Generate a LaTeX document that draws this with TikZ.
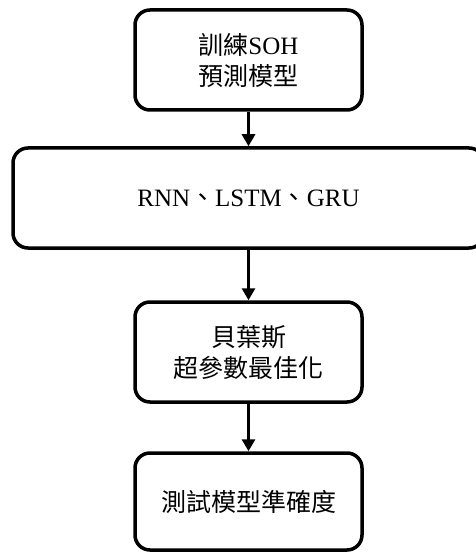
\documentclass[tikz,border=0pt]{standalone}
\usepackage{fontspec}
\setmainfont{Liberation Serif}
\newfontfamily\cjk{Noto Sans CJK TC}
\usetikzlibrary{arrows.meta}
\begin{document}
\begin{tikzpicture}[x=1pt,y=-1pt,
  box/.style={draw,line width=3.5pt,rounded corners=15pt,align=center,
    font=\fontsize{25}{31}\selectfont,inner sep=0pt},
  arr/.style={line width=3pt,-{Triangle[width=13pt,length=12pt]}}]
\useasboundingbox (0,0) rectangle (475,553);
\node[box,minimum width=227pt,minimum height=100pt] (b1) at (248.5,60) {{\cjk 訓練}SOH\\{\cjk 預測模型}};
\node[box,minimum width=471pt,minimum height=100pt] (b2) at (248.5,198) {RNN{\cjk 、}LSTM{\cjk 、}GRU};
\node[box,minimum width=227pt,minimum height=100pt] (b3) at (248.5,352) {{\cjk 貝葉斯}\\{\cjk 超參數最佳化}};
\node[box,minimum width=227pt,minimum height=97pt] (b4) at (248.5,501.5) {{\cjk 測試模型準確度}};
\draw[arr] (b1) -- (b2);
\draw[arr] (b2) -- (b3);
\draw[arr] (b3) -- (b4);
\end{tikzpicture}
\end{document}
